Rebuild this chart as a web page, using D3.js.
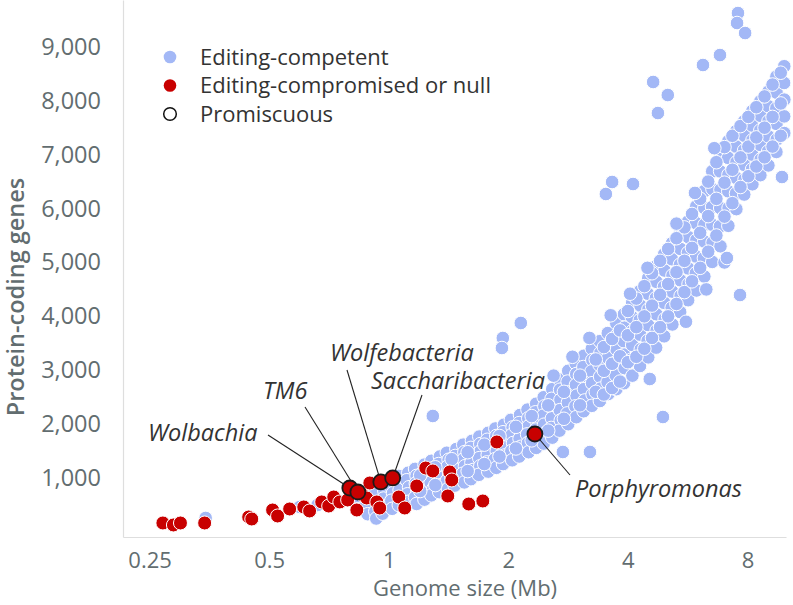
<!DOCTYPE html>
<html><head><meta charset="utf-8">
<script src="https://cdn.jsdelivr.net/npm/d3@7"></script>
<style>body{margin:0;background:#fff}svg{display:block}text{font-family:"Open Sans",sans-serif}</style>
</head><body>
<svg id="c" width="793" height="605"></svg>
<script>
const xTicks=[0.25,0.5,1,2,4,8];
const yTicks=[1000,2000,3000,4000,5000,6000,7000,8000,9000];
const legendItems=["Editing-competent","Editing-compromised or null","Promiscuous"];
// Editing-competent [genome size Mb, protein-coding genes]
const competent=[
[0.84,700],[0.85,560],[0.835,420],
[0.88,780],[0.89,620],[0.875,480],[0.885,330],
[0.93,850],[0.92,700],[0.935,540],[0.925,380],[0.93,250],
[0.965,900],[0.975,760],[0.97,620],[0.98,480],[0.965,340],
[1.02,980],[1.01,860],[1.025,720],[1.015,580],[1.02,430],
[1.06,1040],[1.07,900],[1.065,780],[1.075,640],[1.06,500],
[1.12,1100],[1.11,960],[1.125,830],[1.115,700],[1.12,560],
[1.165,1170],[1.175,1040],[1.17,900],[1.18,780],[1.165,640],[1.175,520],
[1.23,1250],[1.22,1110],[1.235,980],[1.225,850],[1.215,720],[1.23,600],
[1.28,1320],[1.29,1180],[1.285,1050],[1.275,920],[1.295,800],[1.28,680],
[1.345,1400],[1.335,1260],[1.35,1130],[1.34,1000],[1.355,870],[1.34,740],
[1.40,1470],[1.415,1340],[1.405,1210],[1.42,1080],[1.40,950],[1.41,800],
[1.48,1540],[1.47,1410],[1.485,1280],[1.47,1150],[1.48,1010],[1.465,860],
[1.54,1620],[1.55,1480],[1.545,1350],[1.555,1220],[1.535,1080],[1.55,920],
[1.62,1690],[1.61,1560],[1.625,1420],[1.615,1290],[1.63,1150],[1.61,980],
[1.69,1770],[1.70,1630],[1.705,1500],[1.69,1370],[1.70,1220],[1.685,1060],
[1.78,1840],[1.77,1710],[1.785,1570],[1.775,1430],[1.765,1290],[1.78,1120],
[1.855,1920],[1.865,1780],[1.86,1640],[1.87,1500],[1.85,1350],[1.865,1190],
[1.95,1990],[1.94,1850],[1.955,1710],[1.945,1570],[1.96,1420],[1.94,1260],
[2.03,2080],[2.05,1940],[2.04,1800],[2.055,1650],[2.035,1500],[2.045,1330],
[2.14,2170],[2.13,2020],[2.145,1880],[2.135,1730],[2.15,1580],[2.13,1400],
[2.235,2270],[2.245,2110],[2.25,1960],[2.23,1810],[2.24,1650],[2.25,1480],
[2.35,2380],[2.34,2220],[2.355,2060],[2.345,1900],[2.34,1740],[2.35,1560],
[2.455,2500],[2.465,2330],[2.45,2160],[2.46,1990],[2.47,1820],[2.455,1640],
[2.58,2650],[2.57,2470],[2.585,2290],[2.575,2110],[2.565,1930],[2.58,1750],
[2.69,2830],[2.70,2640],[2.705,2450],[2.695,2260],[2.71,2070],[2.69,1880],
[2.83,2990],[2.82,2790],[2.835,2590],[2.825,2400],[2.815,2200],[2.83,2000],
[2.955,3130],[2.965,2930],[2.96,2730],[2.97,2530],[2.95,2330],[2.965,2130],
[3.10,3270],[3.09,3060],[3.11,2860],[3.10,2650],[3.115,2440],[3.095,2240],
[3.245,3400],[3.255,3190],[3.24,2980],[3.25,2760],[3.26,2550],[3.245,2340],
[3.40,3540],[3.41,3320],[3.395,3100],[3.405,2880],[3.415,2660],[3.40,2430],
[3.56,3690],[3.57,3460],[3.565,3230],[3.575,3000],[3.555,2780],[3.57,2560],
[3.74,3870],[3.73,3630],[3.745,3390],[3.735,3150],[3.725,2910],[3.74,2650],
[3.91,4040],[3.92,3790],[3.905,3540],[3.915,3290],[3.925,3040],[3.91,2760],
[4.10,4250],[4.09,3990],[4.11,3730],[4.10,3470],[4.085,3200],[4.105,2900],
[4.29,4470],[4.30,4200],[4.285,3930],[4.295,3660],[4.31,3390],[4.29,3080],
[4.50,4710],[4.49,4420],[4.505,4130],[4.495,3840],[4.485,3550],[4.50,3240],
[4.71,4930],[4.72,4640],[4.705,4340],[4.715,4040],[4.725,3740],[4.71,3420],
[4.935,5150],[4.945,4850],[4.93,4550],[4.94,4250],[4.95,3950],[4.935,3630],
[5.17,5360],[5.16,5060],[5.18,4760],[5.17,4460],[5.155,4160],[5.175,3850],
[5.415,5540],[5.425,5250],[5.41,4960],[5.42,4670],[5.43,4380],[5.415,4080],
[5.67,5760],[5.68,5470],[5.665,5180],[5.675,4890],[5.685,4600],[5.67,4300],
[5.945,6040],[5.935,5730],[5.95,5420],[5.94,5110],[5.93,4800],[5.95,4480],
[6.22,6320],[6.23,6010],[6.235,5700],[6.225,5390],[6.215,5080],[6.23,4740],
[6.52,6690],[6.53,6360],[6.515,6030],[6.525,5700],[6.535,5370],[6.52,5010],
[6.835,7030],[6.825,6690],[6.84,6350],[6.83,6010],[6.82,5670],[6.84,5300],
[7.16,7250],[7.15,6940],[7.165,6630],[7.155,6320],[7.17,6010],[7.16,5680],
[7.50,7440],[7.49,7150],[7.505,6860],[7.495,6570],[7.485,6280],[7.50,5990],
[7.85,7620],[7.86,7350],[7.845,7080],[7.855,6810],[7.865,6540],[7.85,6260],
[8.23,7810],[8.22,7540],[8.235,7270],[8.225,7000],[8.215,6730],[8.23,6450],
[8.62,7990],[8.63,7720],[8.615,7450],[8.625,7180],[8.635,6910],[8.62,6620],
[9.03,8170],[9.02,7900],[9.035,7620],[9.025,7340],[9.015,7060],[9.03,6800],
[9.46,8450],[9.47,8150],[9.455,7860],[9.465,7570],[9.475,7280],[9.46,7050],
[9.9,8640],[9.89,8330],[9.905,8020],[9.895,7710],[9.9,7400],
[1.2,1050],[1.2,760],[1.31,1200],[1.31,870],[1.44,1350],[1.44,1000],
[1.58,1480],[1.58,1130],[1.74,1620],[1.74,1260],[1.9,1780],[1.9,1400],
[2.09,1950],[2.09,1550],[2.29,2150],[2.29,1700],[2.52,2350],[2.52,1880],
[2.76,2600],[2.76,2100],[3.03,2900],[3.03,2350],[3.32,3200],[3.32,2600],
[3.48,3430],[3.48,2990],[3.48,2550],[3.65,3580],[3.65,3120],[3.65,2670],
[3.82,3740],[3.82,3260],[3.82,2790],[4.0,4100],[4.0,3650],[4.0,3150],
[4.2,4330],[4.2,3800],[4.2,3250],[4.4,4560],[4.4,4000],[4.4,3400],
[4.6,4800],[4.6,4200],[4.6,3600],[4.82,5030],[4.82,4400],[4.82,3800],
[5.05,5250],[5.05,4600],[5.05,4000],[5.3,5450],[5.3,4820],[5.3,4230],
[5.55,5650],[5.55,5030],[5.55,4450],[5.8,5900],[5.8,5270],[5.8,4650],
[6.08,6180],[6.08,5550],[6.08,4900],[6.37,6500],[6.37,5860],[6.37,5200],
[6.68,6860],[6.68,6180],[6.68,5500],[7.0,7140],[7.0,6480],[7.0,5850],
[7.33,7350],[7.33,6720],[7.33,6100],[7.68,7530],[7.68,6950],[7.68,6400],
[8.04,7700],[8.04,7150],[8.04,6600],[8.42,7880],[8.42,7320],[8.42,6780],
[8.83,8080],[8.83,7500],[8.83,6950],[9.25,8300],[9.25,7700],[9.25,7150],
[9.7,8520],[9.7,7950],[9.7,7350],
[3.62,4020],[4.05,4420],[4.48,4900],[5.3,5720],[5.9,6290],[6.6,7120],
[2.6,2900],[2.9,3250],[3.2,3600],[5.6,3900],[6.3,4500],[7.0,5000],
[0.346,260],[0.597,464],[0.662,501],
[1.291,2152],[1.937,3599],[1.927,3413],[2.15,3877],[2.744,1484],[3.21,1484],
[4.54,2838],[4.90,2133],[7.66,4396],[7.10,5083],[3.52,6270],[3.65,6493],
[4.12,6455],[4.63,8348],[5.04,8106],[4.76,7772],[6.18,8663],[6.82,8848],
[7.57,9627],[7.53,9442],[7.89,9256],[9.77,6585]
];
// Editing-compromised or null
const compromised=[
[0.270,167],[0.287,130],[0.299,167],[0.344,167],[0.444,278],[0.452,241],
[0.510,408],[0.525,297],[0.563,427],[0.611,464],[0.632,390],[0.678,557],
[0.706,482],[0.727,649],[0.753,557],[0.788,594],[0.831,408],[0.860,686],
[0.880,631],[0.896,909],[0.933,557],[0.949,445],[1.060,649],[1.097,445],
[1.176,853],[1.239,1187],[1.291,1132],[1.424,1113],[1.441,965],[1.408,668],
[1.590,519],[1.725,575],[1.871,1670]
];
// Promiscuous (editing-compromised)
const promNames=["Wolbachia","TM6","Wolfebacteria","Saccharibacteria","Porphyromonas"];
const promX=[0.798,0.836,0.955,1.023,2.333];
const promY=[816,742,928,1002,1818];

const svg=d3.select("#c");
const x=d3.scaleLog().domain([0.2143,10]).range([123,786]);
const y=d3.scaleLinear().domain([-93,9869]).range([537,0]);
const blue="#a3b8f6", red="#c80000", grey="#626d70";

// axes
const gx=svg.append("g").attr("transform","translate(0,537)")
 .call(d3.axisBottom(x).tickValues(xTicks).tickFormat(d3.format("~g")).tickSize(0).tickPadding(15));
const gy=svg.append("g").attr("transform","translate(123,0)")
 .call(d3.axisLeft(y).tickValues(yTicks).tickFormat(d3.format(",")).tickSize(0).tickPadding(22));
[gx,gy].forEach(g=>{g.select(".domain").attr("stroke","#dedede").attr("stroke-width",1.2);
 g.selectAll("text").attr("fill",grey).style("font-family","'Open Sans',sans-serif");});
gx.selectAll("text").style("font-size","22px");
gy.selectAll("text").style("font-size","23.5px");

svg.append("text").attr("x",465).attr("y",596).attr("text-anchor","middle")
 .attr("fill",grey).style("font-size","22px").text("Genome size (Mb)");
svg.append("text").attr("transform","translate(24,297) rotate(-90)").attr("text-anchor","middle")
 .attr("fill",grey).style("font-size","23.5px").style("font-weight",600).text("Protein-coding genes");

// points
svg.append("g").selectAll("circle").data(competent).join("circle")
 .attr("cx",d=>x(d[0])).attr("cy",d=>y(d[1])).attr("r",6.8)
 .attr("fill",blue).attr("stroke","#fff").attr("stroke-width",1);
svg.append("g").selectAll("circle").data(compromised).join("circle")
 .attr("cx",d=>x(d[0])).attr("cy",d=>y(d[1])).attr("r",7)
 .attr("fill",red).attr("stroke","#fff").attr("stroke-width",1);

// annotations
const labelPos=[[148,441,268,435],[263,399,305,407],[330,361,347,370],[371,389,422,395],[575,497,570,475]];
const g=svg.append("g");
promNames.forEach((n,i)=>{
 const px=x(promX[i]), py=y(promY[i]);
 const L=labelPos[i];
 g.append("line").attr("x1",L[2]).attr("y1",L[3]).attr("x2",px).attr("y2",py)
  .attr("stroke","#222").attr("stroke-width",1.1);
});
svg.append("g").selectAll("circle").data(promNames).join("circle")
 .attr("cx",(d,i)=>x(promX[i])).attr("cy",(d,i)=>y(promY[i])).attr("r",7.5)
 .attr("fill",red).attr("stroke","#1a1a1a").attr("stroke-width",1.8);
promNames.forEach((n,i)=>{
 const L=labelPos[i];
 svg.append("text").attr("x",L[0]).attr("y",L[1]).attr("fill","#333")
  .style("font-size","23.5px").style("font-style","italic").text(n);
});

// legend
const lg=svg.append("g");
legendItems.forEach((t,i)=>{
 const cy=57+i*28.5;
 lg.append("circle").attr("cx",170).attr("cy",cy).attr("r",6.3)
  .attr("fill",i==0?blue:i==1?red:"#fff").attr("stroke",i==2?"#111":"none").attr("stroke-width",1.5);
 lg.append("text").attr("x",200).attr("y",cy).attr("dy","0.35em").attr("fill","#333")
  .style("font-size","22px").text(t);
});
</script>
</body></html>
